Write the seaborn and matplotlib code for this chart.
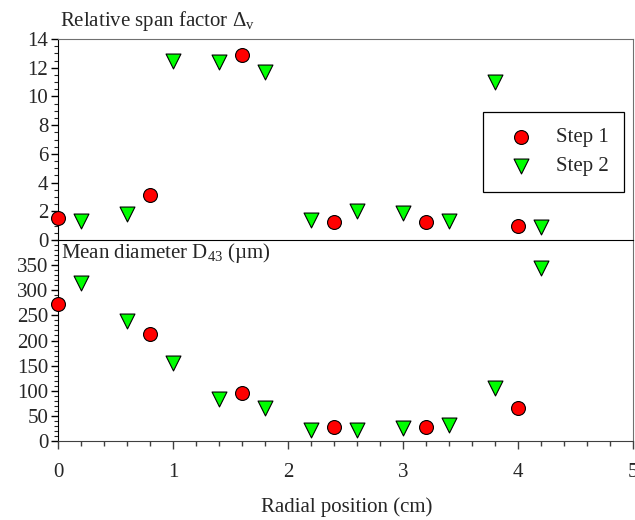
import numpy as np
import pandas as pd
import matplotlib
matplotlib.use("Agg")
import matplotlib.pyplot as plt
import seaborn as sns
from matplotlib.ticker import MultipleLocator

# ---- data ----
x_step1 = [0.0, 0.8, 1.6, 2.4, 3.2, 4.0]
x_step2 = [0.2, 0.6, 1.0, 1.4, 1.8, 2.2, 2.6, 3.0, 3.4, 3.8, 4.2]
span_step1 = [1.5, 3.1, 12.9, 1.25, 1.25, 1.0]
span_step2 = [1.3, 1.8, 12.5, 12.4, 11.7, 1.4, 2.05, 1.9, 1.3, 11.0, 0.9]
d43_step1 = [273, 213, 96, 27, 27, 66]
d43_step2 = [315, 238, 156, 84, 65, 21, 22, 26, 32, 105, 345]
series_labels = ["Step 1", "Step 2"]
top_title = "Relative span factor Δ$_\\mathregular{v}$"
bottom_title = "Mean diameter D$_\\mathregular{43}$ (µm)"
x_label = "Radial position (cm)"

sns.set_style("ticks")
plt.rcParams["font.family"] = ["Liberation Serif", "DejaVu Serif"]
plt.rcParams["mathtext.fontset"] = "custom"
plt.rcParams["mathtext.rm"] = "Liberation Serif"
plt.rcParams["mathtext.it"] = "Liberation Serif:italic"

FS = 15

df1 = pd.DataFrame({"x": x_step1, "span": span_step1, "d43": d43_step1, "series": series_labels[0]})
df2 = pd.DataFrame({"x": x_step2, "span": span_step2, "d43": d43_step2, "series": series_labels[1]})
df = pd.concat([df1, df2], ignore_index=True)

fig = plt.figure(figsize=(6.35, 5.2), dpi=100)
L, R = 58 / 635, 633 / 635
yt, ym, yb = 1 - 39 / 520, 1 - 240 / 520, 1 - 441 / 520
ax_bot = fig.add_axes([L, yb, R - L, ym - yb])
ax_top = fig.add_axes([L, ym, R - L, yt - ym], sharex=ax_bot)
for ax in (ax_top, ax_bot):
    ax.patch.set_alpha(0)

palette = {"Step 1": "#ff0000", "Step 2": "#00ff00"}
markers = {"Step 1": "o", "Step 2": "v"}
sizes = {"Step 1": 100, "Step 2": 115}

for ax, col in [(ax_top, "span"), (ax_bot, "d43")]:
    for lab in series_labels:
        sub = df[df["series"] == lab]
        sns.scatterplot(data=sub, x="x", y=col, ax=ax, color=palette[lab],
                        marker=markers[lab], s=sizes[lab], edgecolor="black",
                        linewidth=0.8, label=lab if ax is ax_top else None,
                        zorder=3, clip_on=False)

ax_top.set_xlim(0, 5)
ax_top.set_ylim(0, 14)
ax_bot.set_ylim(0, 400)
ax_top.set_yticks(np.arange(0, 15, 2))
ax_bot.set_yticks(np.arange(0, 351, 50))
ax_top.yaxis.set_minor_locator(MultipleLocator(0.5))
ax_bot.yaxis.set_minor_locator(MultipleLocator(10))
ax_bot.set_xticks([0, 1, 2, 3, 4, 5])
ax_bot.xaxis.set_minor_locator(MultipleLocator(0.2))

for ax in (ax_top, ax_bot):
    ax.set_xlabel("")
    ax.set_ylabel("")
    ax.tick_params(axis="y", which="major", direction="out", length=5, width=1,
                   labelsize=FS, pad=2, color="black")
    ax.tick_params(axis="y", which="minor", direction="out", length=3, width=0.8)
    ax.spines["left"].set_color("black")
    ax.spines["right"].set_visible(True)
    ax.spines["right"].set_color("#707070")
    ax.spines["top"].set_visible(True)

ax_top.tick_params(axis="x", which="both", bottom=False, labelbottom=False)
ax_top.spines["top"].set_color("#707070")
ax_top.spines["bottom"].set_color("black")
ax_bot.spines["top"].set_visible(False)
ax_bot.spines["bottom"].set_color("#404040")
ax_bot.tick_params(axis="x", which="major", direction="out", length=6, width=1,
                   labelsize=FS, pad=10, color="#404040")
ax_bot.tick_params(axis="x", which="minor", direction="out", length=3.5, width=1,
                   color="#404040")

ax_top.text(0.003, 1.03, top_title, transform=ax_top.transAxes, fontsize=FS,
            ha="left", va="bottom")
ax_bot.text(0.006, 0.995, bottom_title, transform=ax_bot.transAxes, fontsize=FS,
            ha="left", va="top")
fig.text(347 / 635, 1 - 507 / 520, x_label, ha="center", va="center", fontsize=FS)

leg = ax_top.legend(loc="upper left", bbox_to_anchor=(0.739, 0.637),
                    frameon=True, fancybox=False, fontsize=FS,
                    handletextpad=0.6, borderpad=0.75, labelspacing=0.45,
                    borderaxespad=0, handlelength=2.15, framealpha=1)
leg.get_frame().set_edgecolor("black")
leg.get_frame().set_linewidth(0.9)

fig.savefig("out.png", dpi=100)
